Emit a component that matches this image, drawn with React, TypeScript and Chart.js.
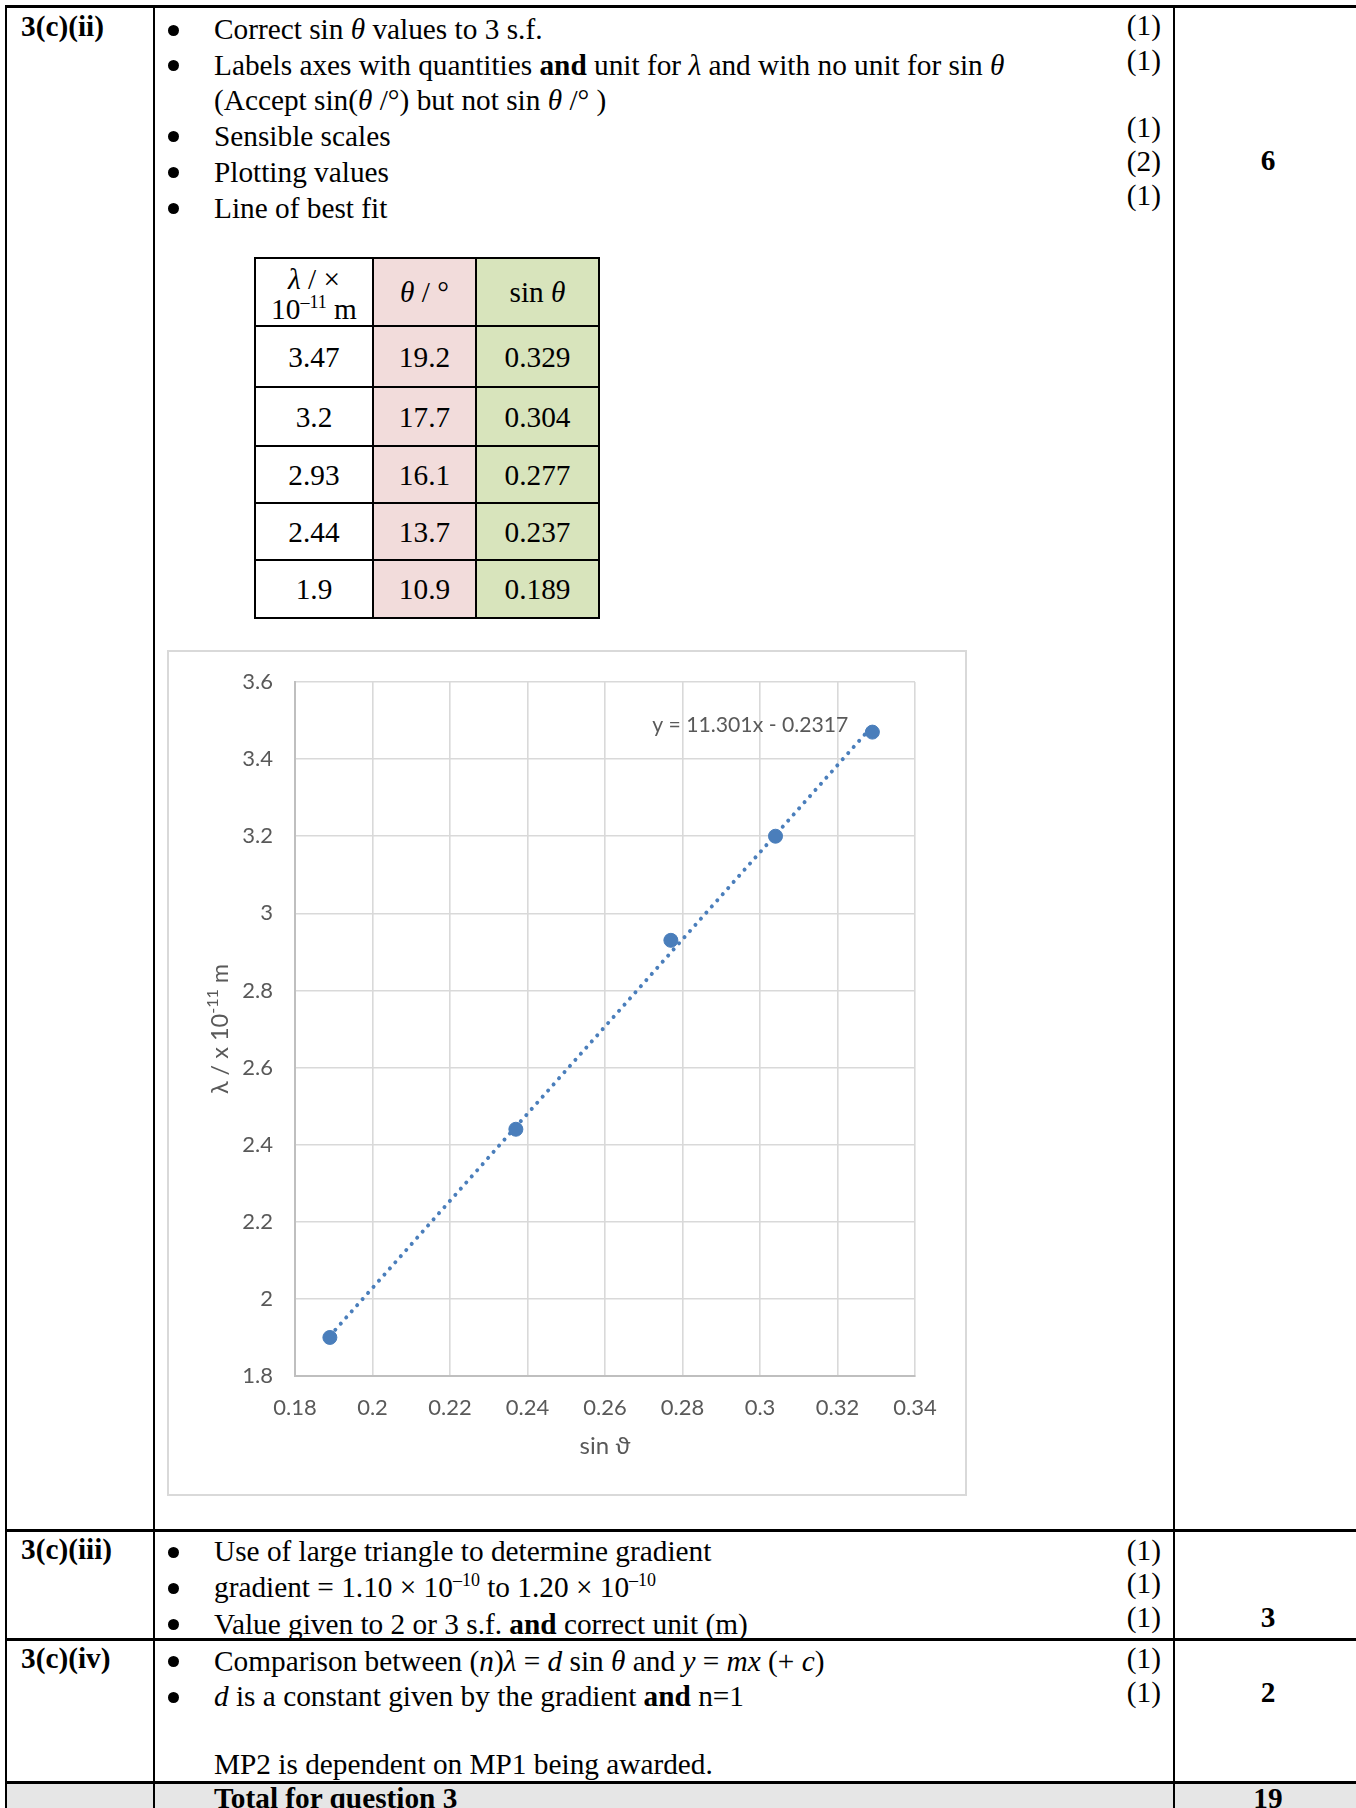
import React, { useEffect, useRef } from "react";
import { Chart, registerables } from "chart.js";

Chart.register(...registerables);

// ---------- data ----------
const lambdaValues = [3.47, 3.2, 2.93, 2.44, 1.9];
const thetaValues = [19.2, 17.7, 16.1, 13.7, 10.9];
const sinThetaValues = [0.329, 0.304, 0.277, 0.237, 0.189];
const trendX = [0.189, 0.329];
const trendY = [1.904, 3.486];
const trendLabel = "y = 11.301x - 0.2317";
const xAxisTitle = "sin ϑ";
const yAxisTitleParts = ["λ / x 10", "-11", " m"];
const xRange = [0.18, 0.34, 0.02];
const yRange = [1.8, 3.6, 0.2];

// ---------- styles ----------
const BLUE = "#4a7ebb";
const SERIF = "'Liberation Serif', 'Times New Roman', serif";
const CHART_FONT = "Lato, 'Open Sans', 'Noto Sans', sans-serif";
const TICK_COLOR = "#595959";
const LH = 34;

function fmt(v: number, d: number) {
  return String(parseFloat(Number(v).toFixed(d)));
}

function ScatterChart() {
  const ref = useRef<HTMLCanvasElement>(null);
  useEffect(() => {
    const canvas = ref.current;
    if (!canvas) return;
    const textPlugin = {
      id: "extraText",
      afterDraw(chart: any) {
        const ctx = chart.ctx;
        const a = chart.chartArea;
        ctx.save();
        ctx.fillStyle = TICK_COLOR;
        // x title
        ctx.font = `24px ${CHART_FONT}`;
        ctx.textAlign = "center";
        ctx.textBaseline = "middle";
        ctx.fillText(xAxisTitle, (a.left + a.right) / 2, a.bottom + 70);
        // equation label near the top point
        const iTop = sinThetaValues.indexOf(Math.max(...sinThetaValues));
        const px = chart.scales.x.getPixelForValue(sinThetaValues[iTop]);
        const py = chart.scales.y.getPixelForValue(lambdaValues[iTop]);
        ctx.textAlign = "right";
        ctx.font = `21.2px ${CHART_FONT}`;
        ctx.fillText(trendLabel, px - 24, py - 7);
        ctx.restore();
        // y title (rotated, with superscript)
        ctx.save();
        ctx.fillStyle = TICK_COLOR;
        ctx.translate(52, (a.top + a.bottom) / 2);
        ctx.rotate(-Math.PI / 2);
        ctx.textAlign = "left";
        ctx.textBaseline = "alphabetic";
        const fonts = [`23.5px ${CHART_FONT}`, `16px ${CHART_FONT}`, `23.5px ${CHART_FONT}`];
        const dys = [8, -2, 8];
        let total = 0;
        const widths = yAxisTitleParts.map((t, i) => {
          ctx.font = fonts[i];
          const w = ctx.measureText(t).width;
          total += w;
          return w;
        });
        let x = -total / 2;
        yAxisTitleParts.forEach((t, i) => {
          ctx.font = fonts[i];
          ctx.fillText(t, x, dys[i]);
          x += widths[i];
        });
        ctx.restore();
      },
    };

    const chart = new Chart(canvas, {
      type: "scatter",
      data: {
        datasets: [
          {
            label: "λ",
            data: sinThetaValues.map((x, i) => ({ x, y: lambdaValues[i] })),
            backgroundColor: BLUE,
            borderColor: BLUE,
            pointRadius: 7,
            pointBorderWidth: 1,
            showLine: false,
            order: 0,
          },
          {
            label: "trend",
            data: trendX.map((x, i) => ({ x, y: trendY[i] })),
            showLine: true,
            borderColor: BLUE,
            backgroundColor: BLUE,
            borderWidth: 4,
            borderDash: [0.01, 8.2],
            borderCapStyle: "round",
            pointRadius: 0,
            fill: false,
            order: 1,
          } as any,
        ],
      },
      options: {
        responsive: false,
        animation: false,
        devicePixelRatio: 1,
        events: [],
        layout: { padding: { left: 0, top: 31, right: 50, bottom: 0 } },
        plugins: { legend: { display: false }, tooltip: { enabled: false } },
        scales: {
          x: {
            type: "linear",
            position: "bottom",
            min: xRange[0],
            max: xRange[1],
            afterFit: (s: any) => {
              s.height = 118;
              s.paddingLeft = 0;
              s.paddingRight = 0;
            },
            ticks: {
              stepSize: xRange[2],
              padding: 19,
              color: TICK_COLOR,
              font: { family: CHART_FONT, size: 22 },
              maxRotation: 0,
              autoSkip: false,
              callback: (v: any) => fmt(v, 2),
            },
            grid: { color: "#d9d9d9", lineWidth: 1.6, drawTicks: false },
            border: { color: "#bfbfbf", width: 2 },
          },
          y: {
            type: "linear",
            min: yRange[0],
            max: yRange[1],
            afterFit: (s: any) => {
              s.width = 127;
              s.paddingTop = 0;
              s.paddingBottom = 0;
            },
            ticks: {
              stepSize: yRange[2],
              padding: 22,
              color: TICK_COLOR,
              font: { family: CHART_FONT, size: 22 },
              autoSkip: false,
              callback: (v: any) => fmt(v, 1),
            },
            grid: { color: "#d9d9d9", lineWidth: 1.6, drawTicks: false },
            border: { color: "#bfbfbf", width: 2 },
          },
        },
      } as any,
      plugins: [textPlugin],
    });
    return () => chart.destroy();
  }, []);
  return (
    <canvas
      ref={ref}
      width={797}
      height={843}
      style={{ position: "absolute", left: 168, top: 651, width: 797, height: 843 }}
    />
  );
}

function T(props: { x: number; y: number; children: any; bold?: boolean; align?: "left" | "right" | "center"; lh?: number }) {
  const { x, y, children, bold, align = "left" } = props;
  const lh = props.lh || LH;
  const style: any = {
    position: "absolute",
    top: y - lh / 2,
    height: lh,
    lineHeight: lh + "px",
    whiteSpace: "nowrap",
    fontWeight: bold ? "bold" : "normal",
  };
  if (align === "left") style.left = x;
  else if (align === "right") {
    style.left = x - 300;
    style.width = 300;
    style.textAlign = "right";
  } else {
    style.left = x - 150;
    style.width = 300;
    style.textAlign = "center";
  }
  return <div style={style}>{children}</div>;
}

function Bullet({ y }: { y: number }) {
  return (
    <div
      style={{
        position: "absolute",
        left: 168,
        top: y - 5.5,
        width: 11,
        height: 11,
        borderRadius: "50%",
        background: "#000",
      }}
    />
  );
}

const Sup = ({ children }: { children: any }) => (
  <span style={{ fontSize: 18, position: "relative", top: -11, lineHeight: 0 }}>{children}</span>
);

function DataTable() {
  const colEdges = [255, 373, 476, 599];
  const rowEdges = [258, 326, 387, 446, 503, 560, 618];
  const bgs = ["#ffffff", "#f2dcdb", "#d8e4bc"];
  const els: any[] = [];
  for (let c = 0; c < 3; c++) {
    els.push(
      <div
        key={"bg" + c}
        style={{
          position: "absolute",
          left: colEdges[c],
          top: rowEdges[0],
          width: colEdges[c + 1] - colEdges[c],
          height: rowEdges[rowEdges.length - 1] - rowEdges[0],
          background: bgs[c],
        }}
      />
    );
  }
  colEdges.forEach((x, i) =>
    els.push(
      <div
        key={"v" + i}
        style={{
          position: "absolute",
          left: x - 1,
          top: rowEdges[0] - 1,
          width: 2,
          height: rowEdges[rowEdges.length - 1] - rowEdges[0] + 2,
          background: "#000",
        }}
      />
    )
  );
  rowEdges.forEach((y, i) =>
    els.push(
      <div
        key={"h" + i}
        style={{
          position: "absolute",
          left: colEdges[0] - 1,
          top: y - 1,
          width: colEdges[3] - colEdges[0] + 2,
          height: 2,
          background: "#000",
        }}
      />
    )
  );
  const cx = (c: number) => (colEdges[c] + colEdges[c + 1]) / 2;
  const cy = (r: number) => (rowEdges[r] + rowEdges[r + 1]) / 2;
  els.push(
    <T key="h0a" x={cx(0)} y={279} align="center" lh={28}>
      <i>λ</i> / ×
    </T>
  );
  els.push(
    <T key="h0b" x={cx(0)} y={309} align="center" lh={28}>
      10<Sup>–11</Sup> m
    </T>
  );
  els.push(
    <T key="h1" x={cx(1)} y={cy(0)} align="center">
      <i>θ</i> / °
    </T>
  );
  els.push(
    <T key="h2" x={cx(2)} y={cy(0)} align="center">
      sin <i>θ</i>
    </T>
  );
  lambdaValues.forEach((v, i) => {
    els.push(
      <T key={"l" + i} x={cx(0)} y={cy(i + 1)} align="center">
        {String(v)}
      </T>
    );
    els.push(
      <T key={"t" + i} x={cx(1)} y={cy(i + 1)} align="center">
        {String(thetaValues[i])}
      </T>
    );
    els.push(
      <T key={"s" + i} x={cx(2)} y={cy(i + 1)} align="center">
        {String(sinThetaValues[i])}
      </T>
    );
  });
  return <>{els}</>;
}

export default function App() {
  const hRules = [5, 1529, 1638, 1781];
  const vRules = [5, 153, 1173];
  const TX = 214;
  const MX = 1161;
  const SX = 1268;
  return (
    <div
      style={{
        position: "relative",
        width: 1356,
        height: 1808,
        overflow: "hidden",
        background: "#fff",
        fontFamily: SERIF,
        fontSize: 29.3,
        color: "#000",
      }}
    >
      <style>{"html,body{margin:0;padding:0;overflow:hidden;background:#fff}"}</style>
      {/* total row background */}
      <div style={{ position: "absolute", left: 5, top: 1781, width: 1351, height: 30, background: "#e6e6e6" }} />
      {hRules.map((y, i) => (
        <div key={"hr" + i} style={{ position: "absolute", left: 5, top: y, width: 1351, height: 3, background: "#000" }} />
      ))}
      {vRules.map((x, i) => (
        <div key={"vr" + i} style={{ position: "absolute", left: x, top: 5, width: 2, height: 1803, background: "#000" }} />
      ))}

      {/* Row 3(c)(ii) */}
      <T x={21} y={26} bold>3(c)(ii)</T>
      <Bullet y={30} />
      <T x={TX} y={29}>Correct sin <i>θ</i> values to 3 s.f.</T>
      <Bullet y={65} />
      <T x={TX} y={64.5}>
        Labels axes with quantities <b>and</b> unit for <i>λ</i> and with no unit for sin <i>θ</i>
      </T>
      <T x={TX} y={100}>
        (Accept sin(<i>θ</i> /°) but not sin <i>θ</i> /° )
      </T>
      <Bullet y={136} />
      <T x={TX} y={136}>Sensible scales</T>
      <Bullet y={172} />
      <T x={TX} y={172}>Plotting values</T>
      <Bullet y={208} />
      <T x={TX} y={207.5}>Line of best fit</T>
      <T x={MX} y={25} align="right">(1)</T>
      <T x={MX} y={59.5} align="right">(1)</T>
      <T x={MX} y={127} align="right">(1)</T>
      <T x={MX} y={160.5} align="right">(2)</T>
      <T x={MX} y={195} align="right">(1)</T>
      <T x={SX} y={160} align="center" bold>6</T>

      <DataTable />

      {/* chart box */}
      <div
        style={{
          position: "absolute",
          left: 167,
          top: 650,
          width: 800,
          height: 846,
          boxSizing: "border-box",
          border: "2px solid #d9d9d9",
          background: "#fff",
        }}
      />
      <ScatterChart />

      {/* Row 3(c)(iii) */}
      <T x={21} y={1549} bold>3(c)(iii)</T>
      <Bullet y={1552} />
      <T x={TX} y={1551}>Use of large triangle to determine gradient</T>
      <Bullet y={1588} />
      <T x={TX} y={1587}>
        gradient = 1.10 × 10<Sup>–10</Sup> to 1.20 × 10<Sup>–10</Sup>
      </T>
      <Bullet y={1624} />
      <T x={TX} y={1623.5}>
        Value given to 2 or 3 s.f. <b>and</b> correct unit (m)
      </T>
      <T x={MX} y={1550} align="right">(1)</T>
      <T x={MX} y={1583} align="right">(1)</T>
      <T x={MX} y={1617} align="right">(1)</T>
      <T x={SX} y={1617} align="center" bold>3</T>

      {/* Row 3(c)(iv) */}
      <T x={21} y={1658} bold>3(c)(iv)</T>
      <Bullet y={1661} />
      <T x={TX} y={1660.5}>
        Comparison between (<i>n</i>)<i>λ</i> = <i>d</i> sin <i>θ</i> and <i>y</i> = <i>mx</i> (+ <i>c</i>)
      </T>
      <Bullet y={1697} />
      <T x={TX} y={1696}>
        <i>d</i> is a constant given by the gradient <b>and</b> n=1
      </T>
      <T x={TX} y={1764}>MP2 is dependent on MP1 being awarded.</T>
      <T x={MX} y={1658} align="right">(1)</T>
      <T x={MX} y={1692} align="right">(1)</T>
      <T x={SX} y={1692} align="center" bold>2</T>

      {/* Total row */}
      <T x={TX} y={1798} bold>Total for question 3</T>
      <T x={SX} y={1798} align="center" bold>19</T>
    </div>
  );
}
